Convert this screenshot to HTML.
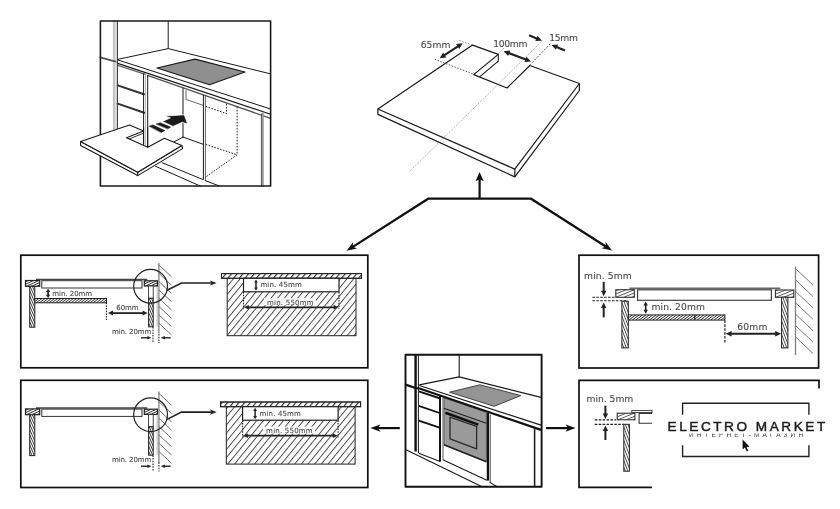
<!DOCTYPE html>
<html lang="ru">
<head>
<meta charset="utf-8">
<title>Electro Market</title>
<style>
html,body{margin:0;padding:0;background:#fff;}
body{width:840px;height:509px;overflow:hidden;}
svg{display:block;}
.lbl{font-family:"DejaVu Sans","Liberation Sans",sans-serif;stroke:#4a4a4a;stroke-width:0.1px;}
.logo{font-family:"Liberation Sans","DejaVu Sans",sans-serif;}
</style>
</head>
<body>
<svg width="840" height="509" viewBox="0 0 840 509" style="filter:grayscale(1)">
<defs>
<pattern id="hBig" width="5.17" height="8" patternUnits="userSpaceOnUse" patternTransform="rotate(39.3)"><line x1="0.5" y1="0" x2="0.5" y2="8" stroke="#222" stroke-width="0.85"/></pattern>
<pattern id="hPlate" width="4.4" height="8" patternUnits="userSpaceOnUse" patternTransform="rotate(39.3)"><line x1="0.6" y1="0" x2="0.6" y2="8" stroke="#222" stroke-width="1.1"/></pattern>
</defs>
<rect x="0" y="0" width="840" height="509" fill="#fff"/>

<g id="pic-insert" stroke-linecap="round" stroke-linejoin="round">
<path d="M157 68 L195 59.1 L245 72 L209.5 84.8 Z" stroke="#1a1a1a" stroke-width="1.2" fill="#8f8f8f" />
<line x1="168.2" y1="21" x2="168.2" y2="48.5" stroke="#1a1a1a" stroke-width="1" />
<path d="M117.7 59.4 L168.2 48.6 L270.6 73.9" stroke="#1a1a1a" stroke-width="1" fill="none" />
<line x1="117.7" y1="59.9" x2="270.6" y2="109" stroke="#1a1a1a" stroke-width="1" />
<line x1="117.7" y1="63.4" x2="270.6" y2="114.2" stroke="#1a1a1a" stroke-width="1.2" />
<line x1="117.7" y1="65.4" x2="145.4" y2="74.4" stroke="#666" stroke-width="1.4" />
<line x1="147.5" y1="75.4" x2="270" y2="118.2" stroke="#555" stroke-width="1.3" />
<line x1="114.2" y1="21" x2="114.2" y2="150" stroke="#c4c4c4" stroke-width="2.6" />
<line x1="117.3" y1="21" x2="117.3" y2="143" stroke="#1a1a1a" stroke-width="1" />
<line x1="100.4" y1="57.4" x2="115.6" y2="61.6" stroke="#555" stroke-width="1.9" />
<line x1="117.7" y1="85.4" x2="144" y2="94.3" stroke="#333" stroke-width="2" />
<line x1="117.7" y1="103.6" x2="144.2" y2="112.8" stroke="#333" stroke-width="2" />
<line x1="143.6" y1="73.8" x2="143.6" y2="144.3" stroke="#1a1a1a" stroke-width="1" />
<line x1="145.5" y1="74.5" x2="145.5" y2="144.8" stroke="#aaa" stroke-width="0.8" />
<line x1="147.7" y1="75.5" x2="147.7" y2="147.3" stroke="#1a1a1a" stroke-width="1" />
<line x1="183" y1="88.5" x2="183" y2="137.1" stroke="#1a1a1a" stroke-width="1" />
<line x1="183" y1="137.1" x2="203.2" y2="144.3" stroke="#1a1a1a" stroke-width="1" />
<line x1="183" y1="137.1" x2="174" y2="141.9" stroke="#1a1a1a" stroke-width="1" />
<path d="M186 90.7 L186 99.4 L203.5 105.4" stroke="#555" stroke-width="0.9" fill="none" />
<line x1="203.4" y1="95.3" x2="203.4" y2="179.4" stroke="#1a1a1a" stroke-width="1" />
<line x1="205.4" y1="96" x2="205.4" y2="180.6" stroke="#555" stroke-width="0.9" />
<path d="M205.8 106.5 L226.5 113.6 L226.5 103.5" stroke="#222" stroke-width="1" fill="none" stroke-dasharray="1.6 1.4" stroke-linecap="butt"/>
<line x1="237.1" y1="106.8" x2="237.1" y2="154.8" stroke="#222" stroke-width="1" stroke-dasharray="1.6 1.4" stroke-linecap="butt"/>
<line x1="205.8" y1="144.5" x2="237.1" y2="154.8" stroke="#222" stroke-width="1" stroke-dasharray="1.6 1.4" stroke-linecap="butt"/>
<line x1="237.1" y1="154.8" x2="206.4" y2="176.5" stroke="#222" stroke-width="1" stroke-dasharray="1.6 1.4" stroke-linecap="butt"/>
<line x1="261.4" y1="113.8" x2="261.4" y2="186" stroke="#333" stroke-width="0.9" />
<line x1="262.8" y1="113.4" x2="262.8" y2="186" stroke="#999" stroke-width="1.9" />
<line x1="162.1" y1="162.7" x2="202.6" y2="179.4" stroke="#1a1a1a" stroke-width="1" />
<line x1="155.6" y1="166.3" x2="200.2" y2="186" stroke="#1a1a1a" stroke-width="1" />
<line x1="205.2" y1="180.6" x2="219.3" y2="186" stroke="#1a1a1a" stroke-width="1" />
<rect x="100.4" y="21" width="170.2" height="165" stroke="#1a1a1a" stroke-width="1.6" fill="none" />
<path d="M80.6 141.6 L80.6 145.4 L137.7 175.6 L182.6 148.6 L181.8 145.5 L137.7 172.3 Z" stroke="#1a1a1a" stroke-width="1.1" fill="#fff" />
<path d="M80.6 141.6 L129.5 125.1 L143.6 130.9 L126.5 137.7 L147.8 147.3 L164.4 138.3 L181.8 145.5 L137.7 172.3 Z" stroke="#1a1a1a" stroke-width="1.1" fill="#fff" />
<line x1="137.7" y1="172.3" x2="137.7" y2="175.6" stroke="#1a1a1a" stroke-width="1.1" />
<line x1="129.3" y1="138.9" x2="143.6" y2="133.2" stroke="#1a1a1a" stroke-width="0.9" />
<line x1="143.6" y1="128" x2="143.6" y2="144.3" stroke="#1a1a1a" stroke-width="1" />
<line x1="147.7" y1="128" x2="147.7" y2="147.3" stroke="#1a1a1a" stroke-width="1" />
<polygon points="164.9,116 184.3,114.8 187.6,124 182.2,122.3 173,126.4 162.3,121.4 170,118.1" fill="#1a1a1a" stroke="#fff" stroke-width="0.8"/>
<polygon points="156.3,124 160.2,122.7 170.6,127.1 167.9,128.8" fill="#1a1a1a" stroke="#1a1a1a" stroke-width="0.5"/>
<polygon points="149.2,126.1 153,124.9 164.9,130.6 161.4,132.4" fill="#1a1a1a" stroke="#1a1a1a" stroke-width="0.5"/>
</g>
<g id="board" stroke-linejoin="round">
<path d="M377.9 109 L472.6 45.1 L498.3 54.4 L473.7 74.6 L507 88 L529.8 65.5 L579.4 83.5 L514.8 169.1 Z" stroke="#1a1a1a" stroke-width="1.2" fill="#fff" />
<path d="M377.9 109 L377.9 114.4 L514.8 176.9 L579.4 90.5 L579.4 83.5" stroke="#1a1a1a" stroke-width="1.2" fill="none" />
<line x1="514.8" y1="169.1" x2="514.8" y2="176.9" stroke="#1a1a1a" stroke-width="1.2" />
<path d="M498.3 54.4 L498.3 61.2 L479.6 76.9" stroke="#1a1a1a" stroke-width="1.1" fill="none" />
<line x1="434.8" y1="59.3" x2="474.1" y2="74.4" stroke="#444" stroke-width="0.9" stroke-dasharray="1.5 1.5"/>
<line x1="459.4" y1="40.4" x2="472.6" y2="45.1" stroke="#777" stroke-width="0.8" stroke-dasharray="1.5 1.5"/>
<line x1="542.3" y1="40.8" x2="409.3" y2="171.7" stroke="#777" stroke-width="0.7" stroke-dasharray="1.2 1.2"/>
<line x1="550.5" y1="43.6" x2="529.9" y2="64.9" stroke="#444" stroke-width="0.9" stroke-dasharray="2 1.5"/>
<line x1="503.8" y1="48.4" x2="498.3" y2="53.6" stroke="#777" stroke-width="0.8" stroke-dasharray="1.5 1.5"/>
<line x1="443.71" y1="55.67" x2="458.69" y2="45.83" stroke="#222" stroke-width="2.2" />
<polygon points="462.7,43.2 459.28,48.92 456.09,44.07" fill="#222"/>
<polygon points="439.7,58.3 443.12,52.58 446.31,57.43" fill="#222"/>
<line x1="508.09" y1="52.89" x2="526.51" y2="59.81" stroke="#222" stroke-width="2.2" />
<polygon points="531,61.5 524.36,62.1 526.4,56.67" fill="#222"/>
<polygon points="503.6,51.2 510.24,50.6 508.2,56.03" fill="#222"/>
<line x1="529.2" y1="35.3" x2="537.59" y2="38.91" stroke="#222" stroke-width="2.2" />
<polygon points="542,40.8 535.34,41.1 537.63,35.77" fill="#222"/>
<line x1="565" y1="50.4" x2="555.95" y2="46.71" stroke="#222" stroke-width="2.2" />
<polygon points="551.5,44.9 558.15,44.48 555.96,49.85" fill="#222"/>
<text class="lbl" x="420.7" y="47.9" font-size="9.2" fill="#4a4a4a" textLength="29.8" lengthAdjust="spacing" >65mm</text>
<text class="lbl" x="493.2" y="46.7" font-size="9.2" fill="#4a4a4a" textLength="34.2" lengthAdjust="spacing" >100mm</text>
<text class="lbl" x="549.2" y="40.8" font-size="9.2" fill="#4a4a4a" textLength="28.8" lengthAdjust="spacing" >15mm</text>
</g>
<g id="flow">
<path d="M351.66 247.57 L428.2 198.7 L531 198.7 L606.95 247.27" stroke="#111" stroke-width="2.2" fill="none" stroke-linejoin="miter"/>
<polygon points="346.6,250.8 353.04,242.3 352.84,246.82 357.02,248.54" fill="#111"/>
<polygon points="612,250.5 601.58,248.23 605.77,246.51 605.57,242.0" fill="#111"/>
<line x1="479.6" y1="198.7" x2="479.6" y2="179" stroke="#111" stroke-width="2.2" />
<polygon points="479.6,172.1 483.7,181.3 479.6,179.3 475.5,181.3" fill="#111"/>
<line x1="399.8" y1="428.1" x2="378" y2="428.1" stroke="#111" stroke-width="2.2" />
<polygon points="370.4,428.1 380.4,424.4 378.0,428.1 380.4,431.8" fill="#111"/>
<line x1="546" y1="428.1" x2="568" y2="428.1" stroke="#111" stroke-width="2.2" />
<polygon points="575.6,428.1 565.6,431.8 568.0,428.1 565.6,424.4" fill="#111"/>
</g>
<g>
<rect x="20.8" y="255.2" width="347.0" height="112.6" stroke="#111" stroke-width="1.7" fill="none" />
<line x1="158.9" y1="263" x2="158.9" y2="333.6" stroke="#808080" stroke-width="1.3" />
<line x1="158.9" y1="265" x2="171.5" y2="276.8" stroke="#6e6e6e" stroke-width="1" />
<line x1="158.9" y1="273.3" x2="171.5" y2="285.1" stroke="#6e6e6e" stroke-width="1" />
<line x1="158.9" y1="281.6" x2="171.5" y2="293.4" stroke="#6e6e6e" stroke-width="1" />
<line x1="158.9" y1="289.9" x2="171.5" y2="301.7" stroke="#6e6e6e" stroke-width="1" />
<line x1="158.9" y1="298.2" x2="171.5" y2="310.0" stroke="#6e6e6e" stroke-width="1" />
<line x1="158.9" y1="306.5" x2="171.5" y2="318.3" stroke="#6e6e6e" stroke-width="1" />
<line x1="158.9" y1="314.8" x2="171.5" y2="326.6" stroke="#6e6e6e" stroke-width="1" />
<line x1="158.9" y1="323.1" x2="171.5" y2="334.9" stroke="#6e6e6e" stroke-width="1" />
<line x1="36" y1="279.6" x2="147.3" y2="279.6" stroke="#444" stroke-width="1.5" />
<rect x="41.8" y="280.7" width="100.2" height="7.3" stroke="#333" stroke-width="1" fill="#fff" />
<rect x="25.5" y="280.5" width="14.2" height="5.8" fill="#fff"/>
<svg x="25.5" y="280.5" width="14.2" height="5.8" viewBox="25.5 280.5 14.2 5.8">
<path d="M18.26 275.52L35.78 267.35M19.19 277.52L36.71 269.34M20.12 279.51L37.64 271.34M21.05 281.50L38.57 273.33M21.98 283.50L39.50 275.33M22.91 285.49L40.43 277.32M23.84 287.49L41.36 279.31M24.77 289.48L42.29 281.31M25.70 291.47L43.22 283.30M26.63 293.47L44.15 285.30M27.56 295.46L45.08 287.29M28.49 297.46L46.01 289.28M29.42 299.45L46.94 291.28" stroke="#333" stroke-width="1" fill="none"/>
</svg>
<rect x="25.5" y="280.5" width="14.2" height="5.8" fill="none" stroke="#222" stroke-width="1.2"/>
<rect x="144.3" y="280.8" width="13.1" height="5.2" fill="#fff"/>
<svg x="144.3" y="280.8" width="13.1" height="5.2" viewBox="144.3 280.8 13.1 5.2">
<path d="M137.07 275.26L153.47 267.61M138.00 277.25L154.40 269.61M138.93 279.25L155.33 271.60M139.86 281.24L156.26 273.59M140.79 283.24L157.19 275.59M141.72 285.23L158.12 277.58M142.65 287.22L159.05 279.58M143.58 289.22L159.98 281.57M144.51 291.21L160.91 283.56M145.44 293.21L161.84 285.56M146.37 295.20L162.77 287.55M147.30 297.19L163.70 289.55M148.23 299.19L164.63 291.54" stroke="#333" stroke-width="1" fill="none"/>
</svg>
<rect x="144.3" y="280.8" width="13.1" height="5.2" fill="none" stroke="#222" stroke-width="1.2"/>
<rect x="29.7" y="286.4" width="5.1" height="40.8" fill="#fff"/>
<svg x="29.7" y="286.4" width="5.1" height="40.8" viewBox="29.7 286.4 5.1 40.8">
<path d="M46.10 275.94L64.45 317.16M44.18 276.80L62.53 318.01M42.26 277.65L60.61 318.87M40.34 278.50L58.69 319.72M38.42 279.36L56.77 320.58M36.50 280.21L54.85 321.43M34.59 281.07L52.94 322.28M32.67 281.92L51.02 323.14M30.75 282.77L49.10 323.99M28.83 283.63L47.18 324.85M26.91 284.48L45.26 325.70M24.99 285.34L43.34 326.55M23.07 286.19L41.43 327.41M21.16 287.05L39.51 328.26M19.24 287.90L37.59 329.12M17.32 288.75L35.67 329.97M15.40 289.61L33.75 330.83M13.48 290.46L31.83 331.68M11.56 291.32L29.91 332.53M9.65 292.17L28.00 333.39M7.73 293.02L26.08 334.24M5.81 293.88L24.16 335.10M3.89 294.73L22.24 335.95M1.97 295.59L20.32 336.80M0.05 296.44L18.40 337.66" stroke="#333" stroke-width="0.95" fill="none"/>
</svg>
<rect x="29.7" y="286.4" width="5.1" height="40.8" fill="none" stroke="#222" stroke-width="1"/>
<rect x="148.6" y="286" width="4.6" height="12.3" stroke="#333" stroke-width="0.9" fill="#fff" />
<rect x="148.6" y="298.3" width="4.6" height="28.5" fill="#fff"/>
<svg x="148.6" y="298.3" width="4.6" height="28.5" viewBox="148.6 298.3 4.6 28.5">
<path d="M161.48 289.85L174.85 319.88M159.56 290.70L172.93 320.73M157.64 291.56L171.01 321.58M155.73 292.41L169.10 322.44M153.81 293.27L167.18 323.29M151.89 294.12L165.26 324.15M149.97 294.97L163.34 325.00M148.05 295.83L161.42 325.86M146.13 296.68L159.50 326.71M144.22 297.54L157.58 327.56M142.30 298.39L155.67 328.42M140.38 299.24L153.75 329.27M138.46 300.10L151.83 330.13M136.54 300.95L149.91 330.98M134.62 301.81L147.99 331.83M132.70 302.66L146.07 332.69M130.79 303.52L144.16 333.54M128.87 304.37L142.24 334.40M126.95 305.22L140.32 335.25" stroke="#333" stroke-width="0.95" fill="none"/>
</svg>
<rect x="148.6" y="298.3" width="4.6" height="28.5" fill="none" stroke="#222" stroke-width="1"/>
<line x1="157.2" y1="286" x2="157.2" y2="326.8" stroke="#999" stroke-width="0.7" />
<line x1="153" y1="327" x2="153" y2="343" stroke="#222" stroke-width="1.1" stroke-dasharray="1.5 1.2"/>
<line x1="158.9" y1="334" x2="158.9" y2="343" stroke="#222" stroke-width="1.1" stroke-dasharray="1.5 1.2"/>
<rect x="34.8" y="298.5" width="71.7" height="4.3" fill="#fff"/>
<svg x="34.8" y="298.5" width="71.7" height="4.3" viewBox="34.8 298.5 71.7 4.3">
<path d="M16.36 291.60L76.92 245.97M17.50 293.12L78.06 247.48M18.64 294.64L79.20 249.00M19.79 296.15L80.35 250.52M20.93 297.67L81.49 252.04M22.08 299.19L82.63 253.55M23.22 300.71L83.78 255.07M24.36 302.22L84.92 256.59M25.51 303.74L86.06 258.11M26.65 305.26L87.21 259.62M27.79 306.78L88.35 261.14M28.94 308.29L89.50 262.66M30.08 309.81L90.64 264.18M31.22 311.33L91.78 265.69M32.37 312.85L92.93 267.21M33.51 314.36L94.07 268.73M34.65 315.88L95.21 270.25M35.80 317.40L96.36 271.76M36.94 318.92L97.50 273.28M38.08 320.43L98.64 274.80M39.23 321.95L99.79 276.32M40.37 323.47L100.93 277.83M41.51 324.98L102.07 279.35M42.66 326.50L103.22 280.87M43.80 328.02L104.36 282.38M44.94 329.54L105.50 283.90M46.09 331.05L106.65 285.42M47.23 332.57L107.79 286.94M48.37 334.09L108.93 288.45M49.52 335.61L110.08 289.97M50.66 337.12L111.22 291.49M51.80 338.64L112.36 293.01M52.95 340.16L113.51 294.52M54.09 341.68L114.65 296.04M55.24 343.19L115.79 297.56M56.38 344.71L116.94 299.08M57.52 346.23L118.08 300.59M58.67 347.75L119.22 302.11M59.81 349.26L120.37 303.63M60.95 350.78L121.51 305.15M62.10 352.30L122.66 306.66M63.24 353.82L123.80 308.18M64.38 355.33L124.94 309.70" stroke="#2a2a2a" stroke-width="0.95" fill="none"/>
</svg>
<rect x="34.8" y="298.5" width="71.7" height="4.3" fill="none" stroke="#222" stroke-width="1"/>
<line x1="48.1" y1="291.36" x2="48.1" y2="295.44" stroke="#222" stroke-width="1.7" />
<polygon points="48.1,298 45.9,294.8 50.3,294.8" fill="#222"/>
<polygon points="48.1,288.8 50.3,292.0 45.9,292.0" fill="#222"/>
<text class="lbl" x="52.2" y="295.5" font-size="7" fill="#4a4a4a" textLength="40" lengthAdjust="spacing" >min. 20mm</text>
<line x1="106.4" y1="302.6" x2="106.4" y2="320" stroke="#222" stroke-width="1.1" stroke-dasharray="1.5 1.2"/>
<line x1="112.0" y1="313.1" x2="143.6" y2="313.1" stroke="#222" stroke-width="1.8" />
<polygon points="147.6,313.1 142.6,315.6 142.6,310.6" fill="#222"/>
<polygon points="108,313.1 113.0,310.6 113.0,315.6" fill="#222"/>
<text class="lbl" x="116.3" y="309.7" font-size="7" fill="#4a4a4a" textLength="22.3" lengthAdjust="spacing" >60mm</text>
<text class="lbl" x="112" y="333.6" font-size="7" fill="#4a4a4a" textLength="39.3" lengthAdjust="spacing" >min. 20mm</text>
<line x1="141" y1="337.8" x2="148.2" y2="337.8" stroke="#222" stroke-width="1.4" />
<polygon points="151.4,337.8 147.4,339.6 147.4,336.0" fill="#222"/>
<line x1="170.7" y1="337.8" x2="164.0" y2="337.8" stroke="#222" stroke-width="1.4" />
<polygon points="160.8,337.8 164.8,336.0 164.8,339.6" fill="#222"/>
<circle cx="150.6" cy="286.3" r="16.9" fill="none" stroke="#222" stroke-width="1.2"/>
<path d="M166.5 290.5 L181.6 283 L211 283" stroke="#222" stroke-width="1.6" fill="none" />
<polygon points="216.6,283 210.1,285.6 211.3,283.0 210.1,280.4" fill="#222"/>
<g transform="translate(0 0)">
<rect x="227.2" y="276" width="128.8" height="59.7" stroke="#222" stroke-width="1" fill="url(#hBig)" />
<rect x="221.5" y="273.6" width="140.0" height="4.7" stroke="#222" stroke-width="1" fill="#fff" />
<rect x="221.5" y="273.6" width="140.0" height="4.7" stroke="#222" stroke-width="1" fill="url(#hPlate)" />
<rect x="243.5" y="278.3" width="95.5" height="13.5" stroke="#222" stroke-width="1.2" fill="#fff" />
<line x1="243.5" y1="292" x2="243.5" y2="309" stroke="#222" stroke-width="1.1" stroke-dasharray="1.5 1.2"/>
<line x1="339" y1="292" x2="339" y2="309" stroke="#222" stroke-width="1.1" stroke-dasharray="1.5 1.2"/>
<rect x="264" y="298.2" width="52" height="7" fill="#fff"/>
<line x1="247.8" y1="307.3" x2="334.7" y2="307.3" stroke="#222" stroke-width="1.7" />
<polygon points="338.7,307.3 333.7,309.6 333.7,305.0" fill="#222"/>
<polygon points="243.8,307.3 248.8,305.0 248.8,309.6" fill="#222"/>
<line x1="256.0" y1="281.96" x2="256.0" y2="288.24" stroke="#222" stroke-width="1.5" />
<polygon points="256,290.8 254.1,287.6 257.9,287.6" fill="#222"/>
<polygon points="256,279.4 257.9,282.6 254.1,282.6" fill="#222"/>
<text class="lbl" x="260.4" y="287.2" font-size="7" fill="#4a4a4a" textLength="41.4" lengthAdjust="spacing" >min. 45mm</text>
<text class="lbl" x="267" y="304.6" font-size="7" fill="#4a4a4a" textLength="46.6" lengthAdjust="spacing" >min. 550mm</text>
</g>
</g>
<g>
<rect x="20.8" y="380.3" width="347.0" height="107.2" stroke="#111" stroke-width="1.7" fill="none" />
<line x1="158.9" y1="391.4" x2="158.9" y2="463.0" stroke="#808080" stroke-width="1.3" />
<line x1="158.9" y1="393.4" x2="171.5" y2="405.2" stroke="#6e6e6e" stroke-width="1" />
<line x1="158.9" y1="401.7" x2="171.5" y2="413.5" stroke="#6e6e6e" stroke-width="1" />
<line x1="158.9" y1="410.0" x2="171.5" y2="421.8" stroke="#6e6e6e" stroke-width="1" />
<line x1="158.9" y1="418.3" x2="171.5" y2="430.1" stroke="#6e6e6e" stroke-width="1" />
<line x1="158.9" y1="426.6" x2="171.5" y2="438.4" stroke="#6e6e6e" stroke-width="1" />
<line x1="158.9" y1="434.9" x2="171.5" y2="446.7" stroke="#6e6e6e" stroke-width="1" />
<line x1="158.9" y1="443.2" x2="171.5" y2="455.0" stroke="#6e6e6e" stroke-width="1" />
<line x1="158.9" y1="451.5" x2="171.5" y2="463.3" stroke="#6e6e6e" stroke-width="1" />
<line x1="36" y1="408.0" x2="147.3" y2="408.0" stroke="#444" stroke-width="1.5" />
<rect x="41.8" y="409.1" width="100.2" height="7.3" stroke="#333" stroke-width="1" fill="#fff" />
<rect x="25.5" y="408.9" width="14.2" height="5.8" fill="#fff"/>
<svg x="25.5" y="408.9" width="14.2" height="5.8" viewBox="25.5 408.9 14.2 5.8">
<path d="M18.26 403.92L35.78 395.75M19.19 405.92L36.71 397.74M20.12 407.91L37.64 399.74M21.05 409.90L38.57 401.73M21.98 411.90L39.50 403.73M22.91 413.89L40.43 405.72M23.84 415.89L41.36 407.71M24.77 417.88L42.29 409.71M25.70 419.87L43.22 411.70M26.63 421.87L44.15 413.70M27.56 423.86L45.08 415.69M28.49 425.86L46.01 417.68M29.42 427.85L46.94 419.68" stroke="#333" stroke-width="1" fill="none"/>
</svg>
<rect x="25.5" y="408.9" width="14.2" height="5.8" fill="none" stroke="#222" stroke-width="1.2"/>
<rect x="144.3" y="409.20000000000005" width="13.1" height="5.2" fill="#fff"/>
<svg x="144.3" y="409.20000000000005" width="13.1" height="5.2" viewBox="144.3 409.20000000000005 13.1 5.2">
<path d="M137.07 403.66L153.47 396.01M138.00 405.65L154.40 398.01M138.93 407.65L155.33 400.00M139.86 409.64L156.26 401.99M140.79 411.64L157.19 403.99M141.72 413.63L158.12 405.98M142.65 415.62L159.05 407.98M143.58 417.62L159.98 409.97M144.51 419.61L160.91 411.96M145.44 421.61L161.84 413.96M146.37 423.60L162.77 415.95M147.30 425.59L163.70 417.95M148.23 427.59L164.63 419.94" stroke="#333" stroke-width="1" fill="none"/>
</svg>
<rect x="144.3" y="409.20000000000005" width="13.1" height="5.2" fill="none" stroke="#222" stroke-width="1.2"/>
<rect x="29.7" y="414.79999999999995" width="5.1" height="40.8" fill="#fff"/>
<svg x="29.7" y="414.79999999999995" width="5.1" height="40.8" viewBox="29.7 414.79999999999995 5.1 40.8">
<path d="M46.10 404.34L64.45 445.56M44.18 405.20L62.53 446.41M42.26 406.05L60.61 447.27M40.34 406.90L58.69 448.12M38.42 407.76L56.77 448.98M36.50 408.61L54.85 449.83M34.59 409.47L52.94 450.68M32.67 410.32L51.02 451.54M30.75 411.17L49.10 452.39M28.83 412.03L47.18 453.25M26.91 412.88L45.26 454.10M24.99 413.74L43.34 454.95M23.07 414.59L41.43 455.81M21.16 415.45L39.51 456.66M19.24 416.30L37.59 457.52M17.32 417.15L35.67 458.37M15.40 418.01L33.75 459.23M13.48 418.86L31.83 460.08M11.56 419.72L29.91 460.93M9.65 420.57L28.00 461.79M7.73 421.42L26.08 462.64M5.81 422.28L24.16 463.50M3.89 423.13L22.24 464.35M1.97 423.99L20.32 465.20M0.05 424.84L18.40 466.06" stroke="#333" stroke-width="0.95" fill="none"/>
</svg>
<rect x="29.7" y="414.79999999999995" width="5.1" height="40.8" fill="none" stroke="#222" stroke-width="1"/>
<rect x="148.6" y="414.4" width="4.6" height="12.3" stroke="#333" stroke-width="0.9" fill="#fff" />
<rect x="148.6" y="426.70000000000005" width="4.6" height="28.5" fill="#fff"/>
<svg x="148.6" y="426.70000000000005" width="4.6" height="28.5" viewBox="148.6 426.70000000000005 4.6 28.5">
<path d="M161.48 418.25L174.85 448.28M159.56 419.10L172.93 449.13M157.64 419.96L171.01 449.98M155.73 420.81L169.10 450.84M153.81 421.67L167.18 451.69M151.89 422.52L165.26 452.55M149.97 423.37L163.34 453.40M148.05 424.23L161.42 454.26M146.13 425.08L159.50 455.11M144.22 425.94L157.58 455.96M142.30 426.79L155.67 456.82M140.38 427.64L153.75 457.67M138.46 428.50L151.83 458.53M136.54 429.35L149.91 459.38M134.62 430.21L147.99 460.23M132.70 431.06L146.07 461.09M130.79 431.92L144.16 461.94M128.87 432.77L142.24 462.80M126.95 433.62L140.32 463.65" stroke="#333" stroke-width="0.95" fill="none"/>
</svg>
<rect x="148.6" y="426.70000000000005" width="4.6" height="28.5" fill="none" stroke="#222" stroke-width="1"/>
<line x1="157.2" y1="414.4" x2="157.2" y2="455.20000000000005" stroke="#999" stroke-width="0.7" />
<line x1="153" y1="455.4" x2="153" y2="471.4" stroke="#222" stroke-width="1.1" stroke-dasharray="1.5 1.2"/>
<line x1="158.9" y1="462.4" x2="158.9" y2="471.4" stroke="#222" stroke-width="1.1" stroke-dasharray="1.5 1.2"/>
<text class="lbl" x="112" y="462.0" font-size="7" fill="#4a4a4a" textLength="39.3" lengthAdjust="spacing" >min. 20mm</text>
<line x1="141" y1="466.2" x2="148.2" y2="466.2" stroke="#222" stroke-width="1.4" />
<polygon points="151.4,466.2 147.4,468.0 147.4,464.4" fill="#222"/>
<line x1="170.7" y1="466.2" x2="164.0" y2="466.2" stroke="#222" stroke-width="1.4" />
<polygon points="160.8,466.2 164.8,464.4 164.8,468.0" fill="#222"/>
<circle cx="150.6" cy="414.70000000000005" r="16.9" fill="none" stroke="#222" stroke-width="1.2"/>
<path d="M166.5 419.6 L181.6 412.1 L211 412.1" stroke="#222" stroke-width="1.6" fill="none" />
<polygon points="216.6,412.1 210.1,414.7 211.3,412.1 210.1,409.5" fill="#222"/>
<g transform="translate(-0.9 0)">
<rect x="227.2" y="404.4" width="128.8" height="59.7" stroke="#222" stroke-width="1" fill="url(#hBig)" />
<rect x="221.5" y="402.0" width="140.0" height="4.7" stroke="#222" stroke-width="1" fill="#fff" />
<rect x="221.5" y="402.0" width="140.0" height="4.7" stroke="#222" stroke-width="1" fill="url(#hPlate)" />
<rect x="243.5" y="406.70000000000005" width="95.5" height="13.5" stroke="#222" stroke-width="1.2" fill="#fff" />
<line x1="243.5" y1="420.4" x2="243.5" y2="437.4" stroke="#222" stroke-width="1.1" stroke-dasharray="1.5 1.2"/>
<line x1="339" y1="420.4" x2="339" y2="437.4" stroke="#222" stroke-width="1.1" stroke-dasharray="1.5 1.2"/>
<rect x="264" y="426.6" width="52" height="7" fill="#fff"/>
<line x1="247.8" y1="435.7" x2="334.7" y2="435.7" stroke="#222" stroke-width="1.7" />
<polygon points="338.7,435.7 333.7,438.0 333.7,433.4" fill="#222"/>
<polygon points="243.8,435.7 248.8,433.4 248.8,438.0" fill="#222"/>
<line x1="256.0" y1="410.36" x2="256.0" y2="416.64" stroke="#222" stroke-width="1.5" />
<polygon points="256,419.2 254.1,416.0 257.9,416.0" fill="#222"/>
<polygon points="256,407.8 257.9,411.0 254.1,411.0" fill="#222"/>
<text class="lbl" x="260.4" y="415.6" font-size="7" fill="#4a4a4a" textLength="41.4" lengthAdjust="spacing" >min. 45mm</text>
<text class="lbl" x="267" y="433.0" font-size="7" fill="#4a4a4a" textLength="46.6" lengthAdjust="spacing" >min. 550mm</text>
</g>
</g>
<g id="sec-r1">
<rect x="579" y="255.2" width="239.6" height="112.8" stroke="#111" stroke-width="1.7" fill="none" />
<line x1="795.5" y1="266.5" x2="795.5" y2="355" stroke="#808080" stroke-width="1.3" />
<line x1="795.5" y1="268.5" x2="813.0" y2="285.1" stroke="#7a7a7a" stroke-width="1" />
<line x1="795.5" y1="279.9" x2="813.0" y2="296.5" stroke="#7a7a7a" stroke-width="1" />
<line x1="795.5" y1="291.3" x2="813.0" y2="307.9" stroke="#7a7a7a" stroke-width="1" />
<line x1="795.5" y1="302.7" x2="813.0" y2="319.3" stroke="#7a7a7a" stroke-width="1" />
<line x1="795.5" y1="314.1" x2="813.0" y2="330.7" stroke="#7a7a7a" stroke-width="1" />
<line x1="795.5" y1="325.5" x2="813.0" y2="342.1" stroke="#7a7a7a" stroke-width="1" />
<line x1="795.5" y1="336.9" x2="813.0" y2="353.5" stroke="#7a7a7a" stroke-width="1" />
<line x1="629.4" y1="288.4" x2="780.4" y2="288.4" stroke="#666" stroke-width="1.7" />
<rect x="637.6" y="289.8" width="133.8" height="10.5" stroke="#444" stroke-width="1.2" fill="#fff" />
<rect x="615.8" y="289.7" width="18.5" height="7.6" fill="#fff"/>
<svg x="615.8" y="289.7" width="18.5" height="7.6" viewBox="615.8 289.7 18.5 7.6">
<path d="M607.18 281.31L629.43 272.32M608.30 284.09L630.56 275.10M609.43 286.87L631.68 277.88M610.55 289.65L632.80 280.66M611.68 292.43L633.93 283.44M612.80 295.21L635.05 286.22M613.92 298.00L636.18 289.00M615.05 300.78L637.30 291.79M616.17 303.56L638.42 294.57M617.30 306.34L639.55 297.35M618.42 309.12L640.67 300.13M619.54 311.90L641.80 302.91M620.67 314.68L642.92 305.69" stroke="#555" stroke-width="0.95" fill="none"/>
</svg>
<rect x="615.8" y="289.7" width="18.5" height="7.6" fill="none" stroke="#333" stroke-width="1.1"/>
<rect x="775.4" y="290" width="18.4" height="7.3" fill="#fff"/>
<svg x="775.4" y="290" width="18.4" height="7.3" viewBox="775.4 290 18.4 7.3">
<path d="M767.95 284.20L790.01 275.29M769.07 286.98L791.14 278.07M770.20 289.76L792.26 280.85M771.32 292.54L793.38 283.63M772.44 295.33L794.51 286.41M773.57 298.11L795.63 289.19M774.69 300.89L796.76 291.97M775.82 303.67L797.88 294.76M776.94 306.45L799.00 297.54M778.06 309.23L800.13 300.32M779.19 312.01L801.25 303.10" stroke="#555" stroke-width="0.95" fill="none"/>
</svg>
<rect x="775.4" y="290" width="18.4" height="7.3" fill="none" stroke="#333" stroke-width="1.1"/>
<rect x="621.9" y="301.2" width="6.4" height="46.7" fill="#fff"/>
<svg x="621.9" y="301.2" width="6.4" height="46.7" viewBox="621.9 301.2 6.4 46.7">
<path d="M642.82 290.36L661.15 338.10M640.58 291.22L658.91 338.96M638.34 292.08L656.67 339.82M636.10 292.94L654.43 340.68M633.86 293.80L652.19 341.54M631.62 294.66L649.95 342.40M629.38 295.52L647.71 343.26M627.14 296.38L645.47 344.12M624.90 297.24L643.23 344.98M622.66 298.10L640.98 345.84M620.42 298.96L638.74 346.70M618.18 299.82L636.50 347.56M615.94 300.68L634.26 348.42M613.70 301.54L632.02 349.28M611.46 302.40L629.78 350.14M609.22 303.26L627.54 351.00M606.97 304.12L625.30 351.86M604.73 304.98L623.06 352.72M602.49 305.84L620.82 353.58M600.25 306.70L618.58 354.44M598.01 307.56L616.34 355.30M595.77 308.42L614.10 356.16M593.53 309.28L611.86 357.02M591.29 310.14L609.62 357.88M589.05 311.00L607.38 358.74" stroke="#444" stroke-width="0.95" fill="none"/>
</svg>
<rect x="621.9" y="301.2" width="6.4" height="46.7" fill="none" stroke="#222" stroke-width="1"/>
<rect x="781.6" y="297.2" width="6.3" height="50.7" fill="#fff"/>
<svg x="781.6" y="297.2" width="6.3" height="50.7" viewBox="781.6 297.2 6.3 50.7">
<path d="M804.01 285.65L823.75 337.08M801.77 286.51L821.51 337.94M799.53 287.37L819.27 338.80M797.28 288.23L817.03 339.66M795.04 289.09L814.79 340.52M792.80 289.95L812.55 341.38M790.56 290.81L810.31 342.24M788.32 291.67L808.06 343.10M786.08 292.53L805.82 343.97M783.84 293.39L803.58 344.83M781.60 294.25L801.34 345.69M779.36 295.11L799.10 346.55M777.12 295.97L796.86 347.41M774.88 296.83L794.62 348.27M772.64 297.69L792.38 349.13M770.40 298.55L790.14 349.99M768.16 299.41L787.90 350.85M765.92 300.27L785.66 351.71M763.68 301.13L783.42 352.57M761.44 302.00L781.18 353.43M759.19 302.86L778.94 354.29M756.95 303.72L776.70 355.15M754.71 304.58L774.46 356.01M752.47 305.44L772.22 356.87M750.23 306.30L769.97 357.73M747.99 307.16L767.73 358.59M745.75 308.02L765.49 359.45" stroke="#444" stroke-width="0.95" fill="none"/>
</svg>
<rect x="781.6" y="297.2" width="6.3" height="50.7" fill="none" stroke="#222" stroke-width="1"/>
<rect x="628.3" y="314.9" width="96.6" height="5.2" fill="#fff"/>
<svg x="628.3" y="314.9" width="96.6" height="5.2" viewBox="628.3 314.9 96.6 5.2">
<path d="M604.30 305.25L684.75 244.62M605.53 306.88L685.98 246.26M606.76 308.52L687.22 247.89M608.00 310.16L688.45 249.53M609.23 311.79L689.69 251.17M610.46 313.43L690.92 252.81M611.70 315.07L692.15 254.44M612.93 316.71L693.39 256.08M614.17 318.34L694.62 257.72M615.40 319.98L695.85 259.35M616.63 321.62L697.09 260.99M617.87 323.26L698.32 262.63M619.10 324.89L699.56 264.27M620.33 326.53L700.79 265.90M621.57 328.17L702.02 267.54M622.80 329.80L703.26 269.18M624.04 331.44L704.49 270.81M625.27 333.08L705.72 272.45M626.50 334.72L706.96 274.09M627.74 336.35L708.19 275.73M628.97 337.99L709.42 277.36M630.20 339.63L710.66 279.00M631.44 341.26L711.89 280.64M632.67 342.90L713.13 282.28M633.91 344.54L714.36 283.91M635.14 346.18L715.59 285.55M636.37 347.81L716.83 287.19M637.61 349.45L718.06 288.82M638.84 351.09L719.29 290.46M640.07 352.72L720.53 292.10M641.31 354.36L721.76 293.74M642.54 356.00L723.00 295.37M643.78 357.64L724.23 297.01M645.01 359.27L725.46 298.65M646.24 360.91L726.70 300.28M647.48 362.55L727.93 301.92M648.71 364.19L729.16 303.56M649.94 365.82L730.40 305.20M651.18 367.46L731.63 306.83M652.41 369.10L732.87 308.47M653.64 370.73L734.10 310.11M654.88 372.37L735.33 311.74M656.11 374.01L736.57 313.38M657.35 375.65L737.80 315.02M658.58 377.28L739.03 316.66M659.81 378.92L740.27 318.29M661.05 380.56L741.50 319.93M662.28 382.19L742.74 321.57M663.51 383.83L743.97 323.21M664.75 385.47L745.20 324.84M665.98 387.11L746.44 326.48M667.22 388.74L747.67 328.12M668.45 390.38L748.90 329.75" stroke="#2a2a2a" stroke-width="1" fill="none"/>
</svg>
<rect x="628.3" y="314.9" width="96.6" height="5.2" fill="none" stroke="#222" stroke-width="1"/>
<line x1="694.8" y1="314.9" x2="694.8" y2="320.1" stroke="#222" stroke-width="1.2" />
<line x1="592.4" y1="297.2" x2="614.8" y2="297.2" stroke="#222" stroke-width="1.1" stroke-dasharray="2.6 1.3"/>
<line x1="592.4" y1="300.8" x2="627.8" y2="300.8" stroke="#222" stroke-width="1.1" stroke-dasharray="2.6 1.3"/>
<line x1="603.7" y1="281.8" x2="603.7" y2="291.8" stroke="#222" stroke-width="2" />
<polygon points="603.7,296.2 601.0,290.7 606.4,290.7" fill="#222"/>
<line x1="603.7" y1="317.4" x2="603.7" y2="306.8" stroke="#222" stroke-width="2" />
<polygon points="603.7,302.4 606.4,307.9 601.0,307.9" fill="#222"/>
<line x1="645.7" y1="304.8" x2="645.7" y2="310.6" stroke="#222" stroke-width="1.6" />
<polygon points="645.7,313.8 643.5,309.8 647.9,309.8" fill="#222"/>
<polygon points="645.7,301.6 647.9,305.6 643.5,305.6" fill="#222"/>
<line x1="724.9" y1="320.4" x2="724.9" y2="343.4" stroke="#222" stroke-width="1.2" stroke-dasharray="2.6 1.3"/>
<line x1="730.4" y1="333.8" x2="776.4" y2="333.8" stroke="#222" stroke-width="2.1" />
<polygon points="781.2,333.8 775.2,336.6 775.2,331.0" fill="#222"/>
<polygon points="725.6,333.8 731.6,331.0 731.6,336.6" fill="#222"/>
<text class="lbl" x="584.1" y="278.5" font-size="9.2" fill="#4a4a4a" textLength="47.6" lengthAdjust="spacing" >min. 5mm</text>
<text class="lbl" x="651.5" y="310.2" font-size="9.2" fill="#4a4a4a" textLength="53.4" lengthAdjust="spacing" >min. 20mm</text>
<text class="lbl" x="737.2" y="329.8" font-size="9.2" fill="#4a4a4a" textLength="30.2" lengthAdjust="spacing" >60mm</text>
</g>
<g id="sec-r2">
<path d="M652 487.4 L579 487.4 L579 380.3 L819 380.3 L819 388.5" stroke="#111" stroke-width="1.7" fill="none" stroke-linejoin="miter"/>
<rect x="631.8" y="410.6" width="20.2" height="2.0" stroke="#333" stroke-width="0.9" fill="#fff" />
<path d="M652 413.4 L639.1 413.4 L639.1 423.3 L652 423.3" stroke="#333" stroke-width="1.1" fill="none" />
<rect x="617.2" y="413.2" width="17.7" height="6.6" fill="#fff"/>
<svg x="617.2" y="413.2" width="17.7" height="6.6" viewBox="617.2 413.2 17.7 6.6">
<path d="M609.82 406.88L631.04 398.30M610.94 409.66L632.17 401.09M612.07 412.44L633.29 403.87M613.19 415.22L634.41 406.65M614.31 418.01L635.54 409.43M615.44 420.79L636.66 412.21M616.56 423.57L637.79 414.99M617.69 426.35L638.91 417.78M618.81 429.13L640.03 420.56M619.93 431.91L641.16 423.34M621.06 434.70L642.28 426.12" stroke="#555" stroke-width="0.95" fill="none"/>
</svg>
<rect x="617.2" y="413.2" width="17.7" height="6.6" fill="none" stroke="#333" stroke-width="1.1"/>
<rect x="623.8" y="424.3" width="5.6" height="46.9" fill="#fff"/>
<svg x="623.8" y="424.3" width="5.6" height="46.9" viewBox="623.8 424.3 5.6 46.9">
<path d="M644.31 413.51L662.67 461.34M642.07 414.37L660.43 462.20M639.83 415.23L658.19 463.06M637.59 416.09L655.95 463.92M635.34 416.95L653.70 464.78M633.10 417.81L651.46 465.64M630.86 418.67L649.22 466.50M628.62 419.53L646.98 467.36M626.38 420.39L644.74 468.22M624.14 421.25L642.50 469.08M621.90 422.11L640.26 469.94M619.66 422.97L638.02 470.81M617.42 423.83L635.78 471.67M615.18 424.69L633.54 472.53M612.94 425.56L631.30 473.39M610.70 426.42L629.06 474.25M608.46 427.28L626.82 475.11M606.22 428.14L624.58 475.97M603.98 429.00L622.34 476.83M601.74 429.86L620.10 477.69M599.50 430.72L617.86 478.55M597.25 431.58L615.61 479.41M595.01 432.44L613.37 480.27M592.77 433.30L611.13 481.13M590.53 434.16L608.89 481.99" stroke="#444" stroke-width="0.95" fill="none"/>
</svg>
<rect x="623.8" y="424.3" width="5.6" height="46.9" fill="none" stroke="#222" stroke-width="1"/>
<line x1="594.8" y1="419.9" x2="616" y2="419.9" stroke="#222" stroke-width="1.1" stroke-dasharray="2.6 1.3"/>
<line x1="594.8" y1="424.4" x2="623.6" y2="424.4" stroke="#222" stroke-width="1.1" stroke-dasharray="2.6 1.3"/>
<line x1="605.4" y1="405.6" x2="605.4" y2="414.5" stroke="#222" stroke-width="2" />
<polygon points="605.4,418.9 602.7,413.4 608.1,413.4" fill="#222"/>
<line x1="605.4" y1="440" x2="605.4" y2="430.0" stroke="#222" stroke-width="2" />
<polygon points="605.4,425.6 608.1,431.1 602.7,431.1" fill="#222"/>
<text class="lbl" x="586.5" y="402.1" font-size="9.2" fill="#4a4a4a" textLength="46.8" lengthAdjust="spacing" >min. 5mm</text>
</g>
<g id="logo">
<path d="M682.6 414.8 L682.6 403.2 L808.9 403.2 L808.9 414.8" stroke="#222" stroke-width="1.4" fill="none" stroke-linejoin="miter"/>
<path d="M682.6 445.2 L682.6 456.5 L808.9 456.5 L808.9 445.2" stroke="#222" stroke-width="1.4" fill="none" stroke-linejoin="miter"/>
<text class="logo" x="667.6" y="430.7" font-size="13.6" fill="#1c1c1c" textLength="157.6" lengthAdjust="spacing" stroke="#1c1c1c" stroke-width="0.45">ELECTRO MARKET</text>
<clipPath id="cutsub"><rect x="680" y="433.4" width="135" height="6"/></clipPath>
<g clip-path="url(#cutsub)">
<text class="logo" x="689" y="437" font-size="6.4" fill="#3a3a3a" textLength="114" lengthAdjust="spacing" >ИНТЕРНЕТ-МАГАЗИН</text>
</g>
<path d="M742.6 439.5 L742.6 449.6 L744.9 447.5 L746.7 451.4 L748.2 450.7 L746.5 446.9 L749.6 446.7 Z" fill="#111"/>
</g>
<g id="pic-oven" stroke-linejoin="round">
<path d="M449.5 392.2 L479.9 384.8 L520.8 395.6 L494.1 406.3 Z" stroke="#444" stroke-width="1" fill="#949494" />
<line x1="459.2" y1="355" x2="459.2" y2="377" stroke="#1a1a1a" stroke-width="1.1" />
<path d="M419.3 384.9 L459.2 376.9 L541 397.3" stroke="#1a1a1a" stroke-width="1.2" fill="none" />
<line x1="419.3" y1="385.5" x2="541" y2="425.1" stroke="#1a1a1a" stroke-width="1.2" />
<line x1="418.8" y1="391.4" x2="439.6" y2="398.3" stroke="#111" stroke-width="2" />
<line x1="418.8" y1="405.9" x2="439.6" y2="413" stroke="#111" stroke-width="1.7" />
<line x1="418.8" y1="420.6" x2="439.6" y2="427.6" stroke="#111" stroke-width="1.7" />
<line x1="440" y1="396" x2="440" y2="461.6" stroke="#111" stroke-width="2" />
<line x1="443" y1="397.5" x2="443" y2="459.7" stroke="#666" stroke-width="1.1" />
<path d="M444 398 L486.4 412.4 L486.4 461.8 L444 444.8 Z" stroke="#555" stroke-width="0.8" fill="#9a9a9a" />
<line x1="443.8" y1="408.3" x2="486.3" y2="423.3" stroke="#222" stroke-width="1.2" />
<path d="M450 417.1 L476.6 426.3 L476.6 448.9 L450 438.8 Z" stroke="#2a2a2a" stroke-width="1.3" fill="none" />
<line x1="445.4" y1="412.8" x2="478.3" y2="424.6" stroke="#111" stroke-width="2.6" />
<line x1="487.9" y1="413" x2="487.9" y2="480.6" stroke="#111" stroke-width="2.3" />
<line x1="490.2" y1="414.5" x2="490.2" y2="482.3" stroke="#333" stroke-width="0.9" />
<line x1="444" y1="444.8" x2="486.4" y2="461.8" stroke="#222" stroke-width="1.6" />
<path d="M405.5 384.6 L415.5 388 L418.8 388.3 L541 429.9" stroke="#111" stroke-width="2.2" fill="none" />
<line x1="415.6" y1="355" x2="415.6" y2="451.5" stroke="#111" stroke-width="2.4" />
<line x1="418.4" y1="355" x2="418.4" y2="453" stroke="#1a1a1a" stroke-width="1" />
<line x1="405.5" y1="449.4" x2="482.1" y2="486.8" stroke="#1a1a1a" stroke-width="1.1" />
<line x1="418.7" y1="453.2" x2="440.1" y2="461.6" stroke="#1a1a1a" stroke-width="1.1" />
<line x1="442.9" y1="459.7" x2="486.8" y2="480.2" stroke="#1a1a1a" stroke-width="1.1" />
<line x1="489.6" y1="482.1" x2="497" y2="486.8" stroke="#1a1a1a" stroke-width="1.1" />
<line x1="534.6" y1="428.5" x2="534.6" y2="486.8" stroke="#222" stroke-width="1.6" />
<rect x="405.5" y="354.8" width="136.1" height="132.0" stroke="#111" stroke-width="1.9" fill="none" />
</g>
</svg>
</body>
</html>
